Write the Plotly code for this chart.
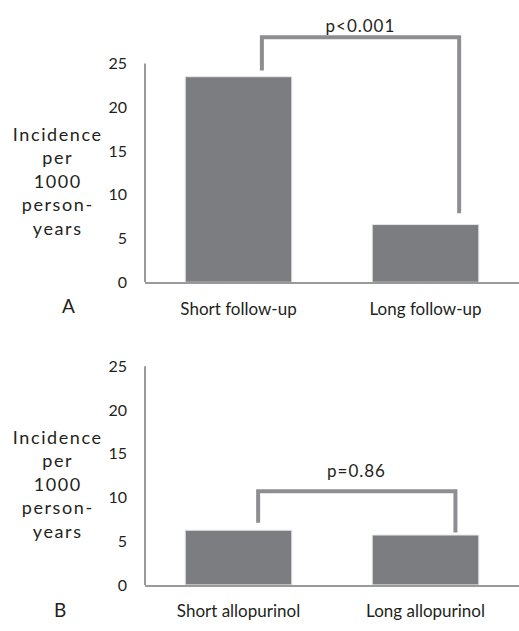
import plotly.graph_objects as go

cats_a = ["Short follow-up", "Long follow-up"]
vals_a = [23.5, 6.6]
cats_b = ["Short allopurinol", "Long allopurinol"]
vals_b = [6.25, 5.7]
ytick_vals = [0, 5, 10, 15, 20, 25]
p_a = "p<0.001"
p_b = "p=0.86"
ylabel = "Incidence<br>per<br>1000<br>person-<br>years"

W, H = 519, 631
BAR = "#7c7d81"
BRK = "#8e8e92"
AXC = "#9a9a9a"
TXT = "#231f20"
FONT = "Lato, 'Open Sans', sans-serif"

fig = go.Figure()
fig.add_trace(go.Bar(x=cats_a, y=vals_a, marker=dict(color=BAR, line=dict(width=1, color="#e6e6e6")),
                     width=0.57, xaxis="x", yaxis="y", showlegend=False, hoverinfo="skip"))
fig.add_trace(go.Bar(x=cats_b, y=vals_b, marker=dict(color=BAR, line=dict(width=1, color="#e6e6e6")),
                     width=0.57, xaxis="x2", yaxis="y2", showlegend=False, hoverinfo="skip"))

pxu = 8.96  # pixels per unit
def dom(y0px, top_val):
    bot = (H - y0px) / H
    top = (H - (y0px - top_val * pxu)) / H
    return [bot, top]

ytop_a = 29
ytop_b = 25.5
xdom = [145 / W, 1.0]

tick_common = dict(showgrid=False, zeroline=False, ticks="", tickfont=dict(size=16, color=TXT, family=FONT))
cat_common = dict(showgrid=False, zeroline=False, ticks="", tickfont=dict(size=17, color=TXT, family=FONT))
fig.update_layout(
    width=W, height=H, margin=dict(l=0, r=0, t=0, b=0),
    plot_bgcolor="white", paper_bgcolor="white",
    font=dict(family=FONT, color=TXT),
    xaxis=dict(domain=xdom, range=[-0.5, 1.5], showline=True, linecolor=AXC, linewidth=2,
               ticklabelstandoff=10, anchor="y", **cat_common),
    yaxis=dict(domain=dom(283, ytop_a), range=[0, ytop_a], tickvals=ytick_vals, showline=False,
               ticklabelstandoff=17, anchor="x", **tick_common),
    xaxis2=dict(domain=xdom, range=[-0.5, 1.5], showline=True, linecolor=AXC, linewidth=2,
                ticklabelstandoff=10, anchor="y2", **cat_common),
    yaxis2=dict(domain=dom(593, ytop_b), range=[0, ytop_b], tickvals=ytick_vals, showline=False,
                ticklabelstandoff=17, anchor="x2", **tick_common),
)

# y axis lines drawn only up to 25
for xr, yr in [("x domain", "y"), ("x2 domain", "y2")]:
    fig.add_shape(type="line", xref=xr, yref=yr, x0=0, x1=0, y0=0, y1=max(ytick_vals),
                  line=dict(color=AXC, width=2))

def bracket(xr, yr, xl, xrt, ytop, yl, yrb):
    fig.add_shape(type="path", xref=xr, yref=yr,
                  path=f"M {xl} {yl} L {xl} {ytop} L {xrt} {ytop} L {xrt} {yrb}",
                  line=dict(color=BRK, width=4))

bracket("x", "y", 0.125, 1.18, 28.0, vals_a[0] + 0.7, vals_a[1] + 1.3)
bracket("x2", "y2", 0.105, 1.16, 10.7, vals_b[0] + 0.85, vals_b[1] + 0.3)

pfont = dict(size=17, color=TXT, family=FONT)
fig.add_annotation(xref="x", yref="paper", x=(0.125 + 1.18) / 2, y=(H - 20) / H, text=p_a,
                   showarrow=False, xanchor="center", yanchor="middle", font=pfont)
fig.add_annotation(xref="x2", yref="y2", x=(0.105 + 1.16) / 2, y=13.1, text=p_b,
                   showarrow=False, xanchor="center", yanchor="middle", font=pfont)

# y-axis titles
for yc in [179, 490]:
    fig.add_annotation(xref="paper", yref="paper", x=57 / W, y=(H - yc) / H, text=ylabel,
                       showarrow=False, align="center", xanchor="center", yanchor="middle",
                       font=dict(size=18, color=TXT, family=FONT))

for lab, xc, yc in [("A", 68, 307), ("B", 60, 618)]:
    fig.add_annotation(xref="paper", yref="paper", x=xc / W, y=(H - yc) / H, text=lab,
                       showarrow=False, xanchor="center", yanchor="middle",
                       font=dict(size=19, color=TXT, family=FONT))

post = """
document.body.style.margin='0';
function __sp(){
  var gd=document.getElementById('{plot_id}');
  if(!gd) return;
  gd.querySelectorAll('.annotation-text').forEach(function(t){
    var s=t.textContent;
    if(s.indexOf('Incidence')>=0){ t.style.letterSpacing='1.6px'; }
    else if(s.indexOf('p')===0){ t.style.letterSpacing='1px'; }
  });
}
__sp(); setTimeout(__sp, 50);
"""
fig.write_html("out.html", post_script=post, config={"displayModeBar": False, "staticPlot": True})
